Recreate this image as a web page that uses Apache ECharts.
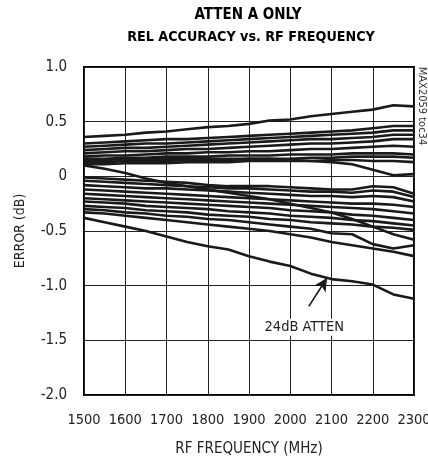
<!DOCTYPE html>
<html>
<head>
<meta charset="utf-8">
<script src="https://cdn.jsdelivr.net/npm/echarts@6/dist/echarts.min.js"></script>
<style>
  html, body { margin: 0; padding: 0; background: #fff; }
  #chart { width: 428px; height: 457px; }
</style>
</head>
<body>
<div id="chart"></div>
<script>
// ---- data ----
var titleLines = ['ATTEN A ONLY', 'REL ACCURACY vs. RF FREQUENCY'];
var xTicks = [1500, 1600, 1700, 1800, 1900, 2000, 2100, 2200, 2300];
var yTicks = [-2.0, -1.5, -1.0, -0.5, 0, 0.5, 1.0];
var freq = [1500,1550,1600,1650,1700,1750,1800,1850,1900,1950,2000,2050,2100,2150,2200,2250,2300];

var u1  = [0.36,0.37,0.38,0.40,0.41,0.43,0.45,0.46,0.48,0.51,0.52,0.55,0.57,0.59,0.61,0.65,0.64];
var u2  = [0.30,0.31,0.32,0.33,0.34,0.34,0.35,0.36,0.37,0.38,0.39,0.40,0.41,0.42,0.44,0.46,0.46];
var u3  = [0.27,0.28,0.29,0.30,0.30,0.31,0.32,0.33,0.34,0.35,0.36,0.37,0.38,0.39,0.40,0.42,0.42];
var u4  = [0.24,0.25,0.26,0.26,0.27,0.28,0.29,0.30,0.31,0.32,0.33,0.34,0.34,0.35,0.36,0.38,0.38];
var u5  = [0.21,0.22,0.23,0.23,0.24,0.25,0.25,0.26,0.27,0.28,0.29,0.30,0.30,0.31,0.32,0.34,0.34];
var u6  = [0.18,0.19,0.19,0.20,0.21,0.21,0.22,0.22,0.23,0.23,0.24,0.25,0.25,0.26,0.27,0.28,0.27];
var u7  = [0.16,0.16,0.17,0.17,0.18,0.18,0.18,0.19,0.19,0.19,0.20,0.20,0.20,0.21,0.21,0.21,0.20];
var u8  = [0.13,0.13,0.14,0.14,0.14,0.15,0.15,0.15,0.16,0.16,0.16,0.17,0.17,0.18,0.18,0.18,0.17];
var u9  = [0.11,0.11,0.12,0.12,0.12,0.13,0.13,0.13,0.14,0.14,0.14,0.14,0.15,0.15,0.14,0.14,0.13];
var u10 = [0.15,0.15,0.16,0.16,0.16,0.16,0.16,0.16,0.16,0.16,0.15,0.14,0.13,0.11,0.06,0.01,0.02];
var cross = [0.10,0.07,0.03,-0.02,-0.06,-0.09,-0.12,-0.15,-0.18,-0.21,-0.25,-0.29,-0.33,-0.39,-0.46,-0.53,-0.58];

var l1  = [-0.01,-0.02,-0.03,-0.04,-0.05,-0.06,-0.08,-0.09,-0.09,-0.09,-0.10,-0.11,-0.12,-0.12,-0.09,-0.10,-0.16];
var l2  = [-0.04,-0.05,-0.06,-0.07,-0.08,-0.09,-0.10,-0.11,-0.11,-0.12,-0.13,-0.14,-0.14,-0.15,-0.13,-0.14,-0.19];
var l3  = [-0.08,-0.09,-0.10,-0.11,-0.11,-0.12,-0.13,-0.14,-0.15,-0.16,-0.17,-0.18,-0.18,-0.19,-0.18,-0.19,-0.23];
var l4  = [-0.12,-0.13,-0.14,-0.15,-0.16,-0.17,-0.18,-0.19,-0.20,-0.21,-0.22,-0.23,-0.24,-0.25,-0.25,-0.26,-0.28];
var l5  = [-0.16,-0.17,-0.18,-0.19,-0.20,-0.21,-0.22,-0.23,-0.24,-0.25,-0.26,-0.27,-0.28,-0.29,-0.30,-0.32,-0.34];
var l6  = [-0.20,-0.21,-0.22,-0.23,-0.24,-0.25,-0.26,-0.27,-0.28,-0.29,-0.31,-0.32,-0.33,-0.35,-0.36,-0.38,-0.40];
var l7  = [-0.23,-0.24,-0.25,-0.27,-0.28,-0.29,-0.30,-0.32,-0.33,-0.34,-0.36,-0.37,-0.38,-0.40,-0.41,-0.43,-0.45];
var l8  = [-0.27,-0.28,-0.29,-0.31,-0.32,-0.33,-0.35,-0.36,-0.37,-0.39,-0.40,-0.42,-0.43,-0.44,-0.46,-0.47,-0.49];
var l9  = [-0.30,-0.31,-0.33,-0.34,-0.36,-0.37,-0.39,-0.40,-0.42,-0.44,-0.46,-0.48,-0.52,-0.53,-0.62,-0.66,-0.63];
var l10 = [-0.33,-0.34,-0.36,-0.38,-0.40,-0.42,-0.44,-0.46,-0.48,-0.50,-0.53,-0.56,-0.60,-0.63,-0.66,-0.69,-0.73];
var atten24 = [-0.38,-0.42,-0.46,-0.50,-0.55,-0.60,-0.64,-0.67,-0.73,-0.78,-0.82,-0.89,-0.94,-0.96,-0.99,-1.08,-1.12];

var curves = [u1,u2,u3,u4,u5,u6,u7,u8,u9,u10,cross,l1,l2,l3,l4,l5,l6,l7,l8,l9,l10,atten24];
var annotationText = '24dB ATTEN';
var tocText = 'MAX2059 toc34';

// ---- chart ----
var FONT = '"DejaVu Sans Condensed", "Liberation Sans Narrow", sans-serif';
var INK = '#1a1a1a';
var TXT = '#222';
var chart = echarts.init(document.getElementById('chart'), null, {renderer: 'canvas'});

function pairs(ys) { return freq.map(function (f, i) { return [f, ys[i]]; }); }

var series = curves.map(function (c) {
  var s = {
    type: 'line',
    data: pairs(c),
    showSymbol: false,
    silent: true,
    smooth: false,
    lineStyle: {color: INK, width: 2.6},
    z: 3
  };
  if (c === atten24) {
    s.markLine = {
      silent: true,
      symbol: ['none', 'arrow'],
      symbolSize: [10, 13],
      label: {show: false},
      lineStyle: {color: INK, width: 1.6, type: 'solid'},
      data: [[{coord: [2045, -1.19]}, {coord: [2089, -0.93]}]]
    };
  }
  return s;
});

chart.setOption({
  animation: false,
  backgroundColor: '#fff',
  grid: {left: 84, top: 67, width: 330, height: 328, containLabel: false, outerBoundsMode: 'none',
    show: true, borderColor: '#000', borderWidth: 2, backgroundColor: 'transparent'},
  xAxis: {
    type: 'value', min: 1500, max: 2300, interval: 100,
    name: 'RF FREQUENCY (MHz)', nameLocation: 'middle', nameGap: 47,
    nameTextStyle: {fontFamily: FONT, fontSize: 15, color: TXT},
    axisLine: {show: false},
    axisTick: {show: false},
    axisLabel: {fontFamily: FONT, fontSize: 14.5, color: TXT, margin: 18,
      formatter: function (v) { return xTicks.indexOf(v) >= 0 ? String(v) : ''; }},
    splitLine: {show: true, lineStyle: {color: '#222', width: 1}}
  },
  yAxis: {
    type: 'value', min: -2, max: 1, interval: 0.5,
    name: 'ERROR (dB)', nameLocation: 'middle', nameGap: 57,
    nameTextStyle: {fontFamily: FONT, fontSize: 14, color: TXT},
    axisLine: {show: false},
    axisTick: {show: false},
    axisLabel: {fontFamily: FONT, fontSize: 15, color: TXT, margin: 17,
      formatter: function (v) {
        var t = yTicks.filter(function (k) { return Math.abs(k - v) < 1e-9; });
        if (!t.length) return '';
        return v === 0 ? '0' : v.toFixed(1);
      }},
    splitLine: {show: true, lineStyle: {color: '#222', width: 1}}
  },
  series: series
});

var tp = chart.convertToPixel({gridIndex: 0}, [2034, -1.38]);
chart.setOption({
  graphic: [
    {type: 'text', x: 248, y: 15, z: 10,
      style: {text: titleLines[0], fontFamily: FONT, fontWeight: 'bold', fontSize: 15, fill: '#000', align: 'center', verticalAlign: 'middle'}},
    {type: 'text', x: 251, y: 37, z: 10,
      style: {text: titleLines[1], fontFamily: FONT, fontWeight: 'bold', fontSize: 14.2, fill: '#000', align: 'center', verticalAlign: 'middle'}},
    {type: 'text', x: tp[0], y: tp[1], z: 10,
      style: {text: annotationText, fontFamily: FONT, fontSize: 14.5, fill: TXT, align: 'center', verticalAlign: 'middle', backgroundColor: '#fff', padding: [1, 2]}},
    {type: 'text', x: 421.5, y: 106, rotation: -Math.PI / 2, z: 10,
      style: {text: tocText, fontFamily: FONT, fontSize: 11, fill: '#333', align: 'center', verticalAlign: 'middle'}}
  ]
});
</script>
</body>
</html>
